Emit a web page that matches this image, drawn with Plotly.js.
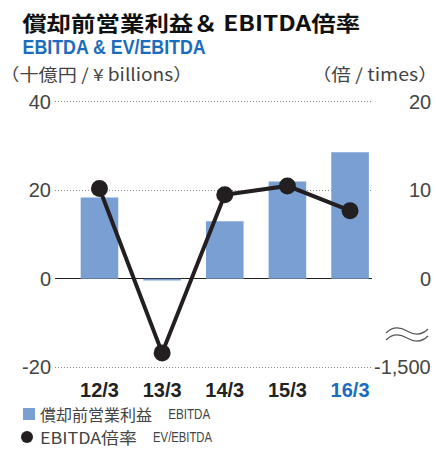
<!DOCTYPE html>
<html>
<head>
<meta charset="utf-8">
<script src="https://cdn.plot.ly/plotly-3.0.1.min.js"></script>
<style>html,body{margin:0;padding:0;background:#fff;}#chart{width:436px;height:450px;}</style>
</head>
<body>
<div id="chart"></div>
<script>
// ---- data ----
const categories = ['12/3', '13/3', '14/3', '15/3', '16/3'];
const ebitda = [18.4, -0.4, 13.0, 22.0, 28.6];          // ¥ billions (left axis)
const evEbitda = [10.2, -1260, 9.5, 10.5, 7.7];         // times (right axis, broken below 0)
const leftTicks = [-20, 0, 20, 40];
const rightTickVals = [20, 10, 0, -1500];
const rightTickText = ['20', '10', '0', '-1,500'];

// broken right axis: negative part compressed (0 .. -1,500 shown as 0 .. -10)
const brk = v => (v >= 0 ? v : v / 150);

// plot area in pixels (2px padding beyond the outer gridlines so they are drawn)
const L = 55, R = 372, T = 100, B = 369;
const W = R - L, H = B - T;
const px = x => (x - L) / W;
const py = y => (B - y) / H;

const JP = '"Noto Sans CJK JP", "Liberation Sans", sans-serif';
const LAT = '"Liberation Sans", Arial, sans-serif';
const BAR = '#7a9fd3';
const DARK = '#231f20';
const GREY = '#444';
const BLUE = '#1a6dbd';

const traces = [
  {
    type: 'bar', x: categories, y: ebitda, width: 0.6,
    marker: {color: BAR}, yaxis: 'y', showlegend: false, hoverinfo: 'skip'
  },
  {
    type: 'scatter', mode: 'lines+markers', x: categories, y: evEbitda.map(brk),
    yaxis: 'y2', line: {color: DARK, width: 4},
    marker: {color: DARK, size: 17}, cliponaxis: false, showlegend: false, hoverinfo: 'skip'
  }
];

const ann = [];
const fitLen = {};   // annotation index -> target text length (px)
function txt(text, cx, y, size, color, family, weight, len) {
  if (len) fitLen[ann.length] = len;
  ann.push({text: text, xref: 'paper', yref: 'paper', x: px(cx), y: py(y),
    xanchor: 'center', yanchor: 'middle', showarrow: false,
    font: {size: size, color: color, family: family, weight: weight || 'normal'}});
}
txt('償却前営業利益＆ EBITDA倍率', 191, 21.5, 21, '#111', JP, 'bold', 338);
txt('EBITDA & EV/EBITDA', 113.5, 46.5, 21, BLUE, LAT, 'bold', 183);
txt('（十億円 / ¥ billions）', 96, 73, 17, GREY, JP, 'normal', 192);
txt('（倍 / times）', 374, 73, 17, GREY, JP, 'normal', 126);
txt('償却前営業利益', 96, 414, 16, GREY, JP, 'normal', 112);
txt('EBITDA', 189, 414, 14, GREY, LAT, 'normal', 42);
txt('EBITDA倍率', 88.5, 437, 16, GREY, JP, 'normal', 97);
txt('EV/EBITDA', 182.5, 437, 14, GREY, LAT, 'normal', 59);

rightTickVals.forEach((v, i) => {
  ann.push({text: rightTickText[i], xref: 'paper', yref: 'y2', x: px(433), y: brk(v),
    xanchor: 'right', yanchor: 'middle', showarrow: false,
    font: {size: 20, color: GREY, family: LAT}});
});

function wave(y) {
  const p = (x, yy) => px(x) + ',' + py(yy);
  return 'M' + p(386, y + 2) + ' C' + p(393, y - 5) + ' ' + p(400, y - 4) + ' ' + p(407, y) +
    ' C' + p(414, y + 4) + ' ' + p(421, y + 5) + ' ' + p(428, y - 2);
}

const shapes = [
  {type: 'path', xref: 'paper', yref: 'paper', path: wave(331), line: {color: '#555', width: 1.2}},
  {type: 'path', xref: 'paper', yref: 'paper', path: wave(338), line: {color: '#555', width: 1.2}},
  {type: 'rect', xref: 'paper', yref: 'paper', x0: px(23), x1: px(35), y0: py(408), y1: py(420),
    fillcolor: BAR, line: {width: 0}},
  {type: 'circle', xref: 'paper', yref: 'paper', x0: px(21), x1: px(33), y0: py(431), y1: py(443),
    fillcolor: DARK, line: {width: 0}}
];

const layout = {
  width: 436, height: 450,
  margin: {l: L, r: 436 - R, t: T, b: 450 - B, pad: 0},
  paper_bgcolor: '#fff', plot_bgcolor: 'rgba(0,0,0,0)',
  showlegend: false, bargap: 0.4,
  xaxis: {
    type: 'category', range: [-0.71, 4.35], showgrid: false, showline: false, zeroline: false,
    ticks: '', tickvals: categories,
    ticktext: categories.map((c, i) => i === categories.length - 1
      ? '<b><span style="color:' + BLUE + '">' + c + '</span></b>' : '<b>' + c + '</b>'),
    tickfont: {size: 20, color: '#222', family: LAT}, ticklabelstandoff: 7
  },
  yaxis: {
    range: [-20.45, 40.45], tickvals: leftTicks, ticktext: leftTicks.map(String),
    showgrid: true, gridcolor: '#888', griddash: '1px,2px', gridwidth: 1,
    zeroline: true, zerolinecolor: '#222', zerolinewidth: 1.5,
    showline: false, ticks: '', tickfont: {size: 20, color: GREY, family: LAT}, ticklabelstandoff: 3
  },
  yaxis2: {
    overlaying: 'y', side: 'right', range: [-10.225, 20.225], showgrid: false, zeroline: false,
    showline: false, showticklabels: false, ticks: ''
  },
  annotations: ann,
  shapes: shapes
};

Plotly.newPlot('chart', traces, layout, {staticPlot: true, displayModeBar: false}).then(gd => {
  gd.querySelectorAll('g.annotation').forEach(g => {
    const idx = g.getAttribute('data-index');
    if (fitLen[idx] !== undefined) {
      const t = g.querySelector('text.annotation-text');
      if (t) {
        t.setAttribute('textLength', fitLen[idx]);
        t.setAttribute('lengthAdjust', 'spacingAndGlyphs');
      }
    }
  });
});
</script>
</body>
</html>
